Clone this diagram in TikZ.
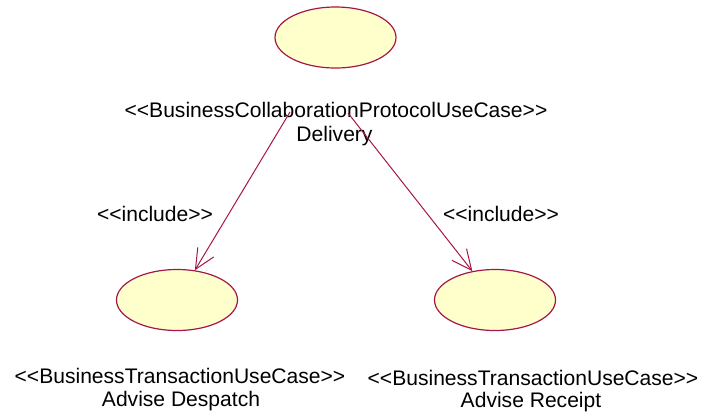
\documentclass[tikz,border=0pt]{standalone}
\usepackage{fontspec}
\setmainfont{Liberation Sans}[Ligatures=TeXOff]
\usetikzlibrary{shapes.geometric,arrows.meta}

\definecolor{ucline}{RGB}{165,22,72}
\definecolor{ucfill}{RGB}{255,255,204}

\tikzset{
  usecase/.style={ellipse,draw=ucline,fill=ucfill,line width=0.9pt,
    minimum width=90.75pt,minimum height=45.75pt,inner sep=0pt},
  uctext/.style={inner sep=0.75pt,font=\fontsize{15.8pt}{18pt}\selectfont},
  include/.style={draw=ucline,line width=0.75pt,
    -{Straight Barb[length=15pt,width=14pt,line width=0.75pt]}}
}

\begin{document}
\begin{tikzpicture}[x=0.75pt,y=0.75pt,yscale=-1,xscale=1]
\useasboundingbox (0,0) rectangle (703,415);

%Shape: Ellipse [delivery]
\node[usecase] (delivery) at (335.5,37.5) {};
%Shape: Ellipse [despatch]
\node[usecase] (despatch) at (177,300) {};
%Shape: Ellipse [receipt]
\node[usecase] (receipt) at (495,300) {};

% Text Node
\node[uctext] (dlvStereo) at (336,110) {<<BusinessCollaborationProtocolUseCase>>};
% Text Node
\node[uctext] (dlvName) at (334.5,136) {Delivery};
% Text Node
\node[uctext] (dspStereo) at (180,376) {<<BusinessTransactionUseCase>>};
% Text Node
\node[uctext] (dspName) at (181,401) {Advise Despatch};
% Text Node
\node[uctext] (rcpStereo) at (533,378) {<<BusinessTransactionUseCase>>};
% Text Node
\node[uctext] (rcpName) at (531,402) {Advise Receipt};
% Text Node
\node[uctext] (inclL) at (155,214) {<<include>>};
% Text Node
\node[uctext] (inclR) at (501,214) {<<include>>};

%Straight Lines [include arrows]
\coordinate (dlvL) at (290,112);
\coordinate (dlvR) at (348,113);
\draw[include] (dlvL) -- (despatch);
\draw[include] (dlvR) -- (receipt);

\end{tikzpicture}
\end{document}
